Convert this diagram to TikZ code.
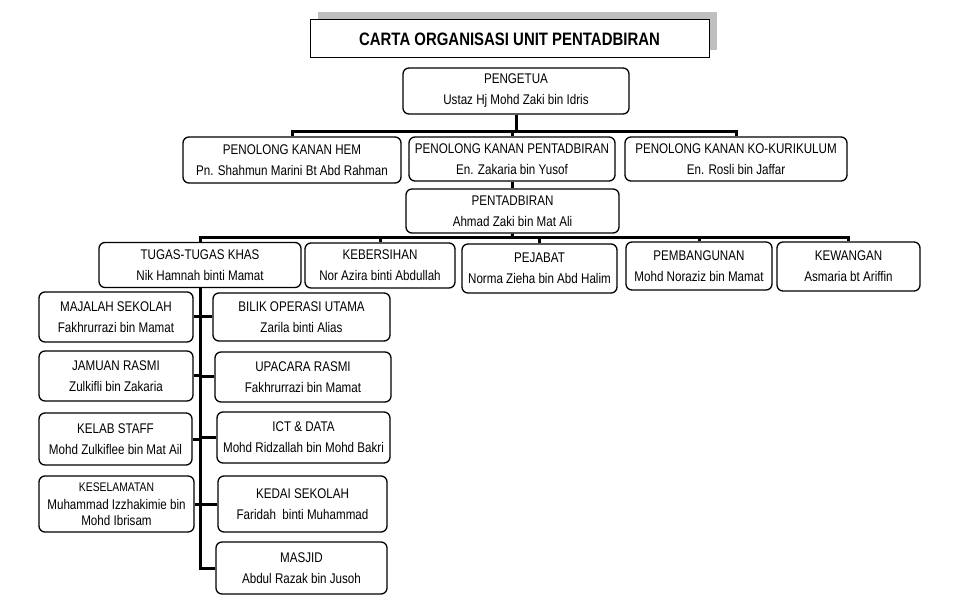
\documentclass[tikz,border=0pt]{standalone}
\usepackage{fontspec}
\setmainfont{Liberation Sans}[FakeStretch=0.83]
\usetikzlibrary{shadows}
\tikzset{
	unit/.style={draw, line width=1.3pt, rounded corners=6pt, align=center, inner sep=0pt, fill=white, font=\fontsize{14}{21}\selectfont},
	link/.style={line width=3pt},
}
\begin{document}
\begin{tikzpicture}[x=1pt, y=-1pt]
	\useasboundingbox (0,0) rectangle (961,601);
	% title
	\node[draw, fill=white, line width=1pt, minimum width=399pt, minimum height=38pt, font=\bfseries\fontsize{18}{22}\selectfont,
		drop shadow={shadow xshift=8pt, shadow yshift=8pt, fill=gray!50, opacity=1}] (title) at (509.5,39) {CARTA ORGANISASI UNIT PENTADBIRAN};
	% top levels
	\node[unit, minimum width=226pt, minimum height=46pt] (pengetua) at (516,91) {PENGETUA\\Ustaz Hj Mohd Zaki bin Idris};
	\node[unit, minimum width=218pt, minimum height=46pt] (hem) at (292,160) {PENOLONG KANAN HEM\\Pn. Shahmun Marini Bt Abd Rahman};
	\node[unit, minimum width=206pt, minimum height=44pt] (pkp) at (512,159) {PENOLONG KANAN PENTADBIRAN\\En. Zakaria bin Yusof};
	\node[unit, minimum width=222pt, minimum height=44pt] (kok) at (736,159) {PENOLONG KANAN KO-KURIKULUM\\En. Rosli bin Jaffar};
	\node[unit, minimum width=213pt, minimum height=44pt] (pentadbiran) at (512.5,211) {PENTADBIRAN\\Ahmad Zaki bin Mat Ali};
	% units
	\node[unit, minimum width=202pt, minimum height=45pt] (tugas) at (200,265) {TUGAS-TUGAS KHAS\\Nik Hamnah binti Mamat};
	\node[unit, minimum width=150pt, minimum height=45pt] (kebersihan) at (380,265.5) {KEBERSIHAN\\Nor Azira binti Abdullah};
	\node[unit, minimum width=155pt, minimum height=49pt] (pejabat) at (539.5,268.5) {PEJABAT\\Norma Zieha bin Abd Halim};
	\node[unit, minimum width=146pt, minimum height=48pt] (pembangunan) at (699,266) {PEMBANGUNAN\\Mohd Noraziz bin Mamat};
	\node[unit, minimum width=143pt, minimum height=49pt] (kewangan) at (848.5,266.5) {KEWANGAN\\Asmaria bt Ariffin};
	% tugas-tugas khas
	\node[unit, minimum width=154pt, minimum height=50pt] (majalah) at (116,317) {MAJALAH SEKOLAH\\Fakhrurrazi bin Mamat};
	\node[unit, minimum width=177pt, minimum height=48pt] (bilik) at (301.5,317) {BILIK OPERASI UTAMA\\Zarila binti Alias};
	\node[unit, minimum width=154pt, minimum height=50pt] (jamuan) at (116,376) {JAMUAN RASMI\\Zulkifli bin Zakaria};
	\node[unit, minimum width=176pt, minimum height=50pt] (upacara) at (303,377) {UPACARA RASMI\\Fakhrurrazi bin Mamat};
	\node[unit, minimum width=153pt, minimum height=52pt] (kelab) at (115.5,439) {KELAB STAFF\\Mohd Zulkiflee bin Mat Ail};
	\node[unit, minimum width=173pt, minimum height=51pt] (ict) at (303.5,437.5) {ICT \& DATA\\Mohd Ridzallah bin Mohd Bakri};
	\node[unit, minimum width=155pt, minimum height=56pt, font=\fontsize{14}{15.5}\selectfont] (keselamatan) at (116.5,504) {{\fontsize{12.5}{15}\selectfont KESELAMATAN}\\[3pt]Muhammad Izzhakimie bin\\Mohd Ibrisam};
	\node[unit, minimum width=169pt, minimum height=56pt] (kedai) at (302.5,504) {KEDAI SEKOLAH\\Faridah~ binti Muhammad};
	\node[unit, minimum width=171pt, minimum height=52pt] (masjid) at (301.5,568) {MASJID\\Abdul Razak bin Jusoh};
	% connectors
	\coordinate (busA) at (516,132);
	\coordinate (busB) at (512,238);
	\draw[link] (pengetua.south) -- (busA);
	\foreach \n in {hem, pkp, kok}
		\draw[link] (busA) -| (\n.north);
	\draw[link] (pkp.south) -- (pkp.south |- pentadbiran.north);
	\draw[link] (pentadbiran.south) -- (busB);
	\foreach \n in {tugas, kebersihan, pejabat, pembangunan, kewangan}
		\draw[link] (busB) -| (\n.north);
	\draw[link] (tugas.south) |- (masjid.west);
	\foreach \n in {majalah, jamuan, kelab, keselamatan}
		\draw[link] (\n.east) -- (\n.east -| tugas.south);
	\foreach \n in {bilik, upacara, ict, kedai}
		\draw[link] (\n.west) -- (\n.west -| tugas.south);
\end{tikzpicture}
\end{document}
